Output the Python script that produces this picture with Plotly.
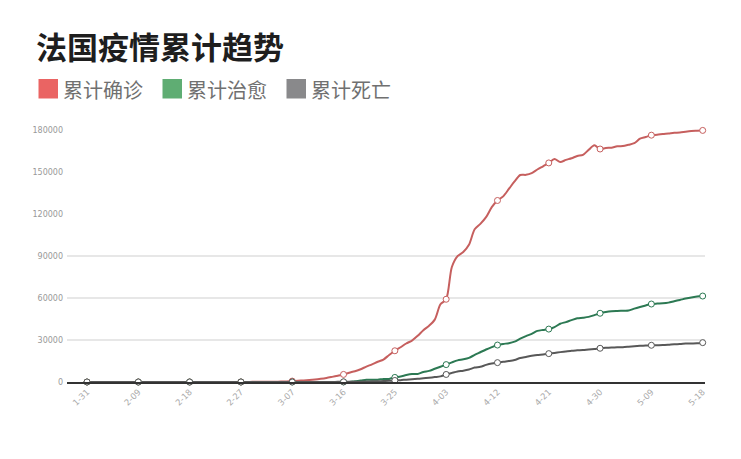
import plotly.graph_objects as go
import pandas as pd

# ---- data ----
dates = [d.strftime("%-m-%d") for d in pd.date_range("2020-01-31", "2020-05-18", freq="D")]

confirmed = (
    [6]
    + [6] * 8 + [11] * 7 + [12] * 10 + [18, 38, 57, 100]
    + [100, 130, 191, 212, 285, 423, 653, 949, 1126, 1412, 1784, 2281, 2876, 3661, 4499,
       5423, 6633, 7730, 9134, 10995, 12612, 14459, 16018, 19300, 22302, 24800, 27500,
       29600, 32964, 37000, 40174]
    + [44550, 55500, 59105, 82165, 89953, 92839, 98010, 109069, 112950, 117749, 124869,
       129654, 132591, 137875, 143303, 147863, 147969, 149149, 151793, 154097, 156480,
       159297, 157125, 158636, 159828, 161488, 162220, 165842, 169053, 166420]
    + [167178, 167346, 168396, 168518, 169462, 170551, 173800, 175000, 176300, 176600,
       177100, 177500, 178000, 178200, 178800, 179300, 179500, 179700]
)

recovered = (
    [0]
    + [0] * 14 + [4] * 15
    + [12] * 17 + [602, 1000, 1587, 1587, 1587, 2200, 2200, 3281, 3900, 4948, 5700, 5700,
                   7202, 7927]
    + [9444, 10935, 12428, 14008, 15438, 16183, 17250, 19337, 21254, 23206, 24932, 26391,
       27186, 27718, 28805, 30955, 32812, 34420, 36500, 37200, 37800, 39200, 41600, 42800,
       44200, 45500, 45900, 46500, 47800, 49100]
    + [50000, 50600, 50800, 50900, 51000, 52400, 53600, 54700, 55700, 56000, 56200, 56700,
       57700, 58600, 59600, 60400, 61000, 61400]
)

deaths = (
    [0]
    + [0] * 15 + [1] * 11 + [2] * 3
    + [2, 2, 3, 4, 4, 6, 9, 16, 19, 25, 33, 48, 61, 79, 91, 127, 148, 175, 244, 372, 450,
       562, 674, 860, 1100, 1331, 1696, 1995, 2314, 2606, 3024]
    + [3523, 4032, 5387, 6507, 7560, 8078, 8911, 10328, 10869, 12210, 13197, 13832, 14393,
       14967, 15729, 17167, 17920, 18681, 19323, 19718, 20265, 20796, 21340, 21856, 22245,
       22614, 22856, 23293, 23660, 24087]
    + [24376, 24594, 24760, 24895, 25201, 25531, 25809, 25987, 26230, 26310, 26380, 26643,
       26991, 27074, 27425, 27529, 27625, 28108]
)

series_names = ["累计确诊", "累计治愈", "累计死亡"]
y_ticks = [0, 30000, 60000, 90000, 120000, 150000, 180000]
grid_values = [30000, 60000, 90000]
tick_step = 9
title_text = "法国疫情累计趋势"

# ---- styles ----
line_colors = ["#c65f5e", "#2c7953", "#585858"]
legend_colors = ["#ea6463", "#5fad73", "#89898b"]

W, H = 741, 459
L, R, T, B = 67, 36, 124, 77
pw, ph = W - L - R, H - T - B
px_per_day = (702.7 - 87) / 108.0
x_range = [-(87 - L) / px_per_day, (W - R - 87) / px_per_day]
y_max = (382 - T) / 252.0 * 180000

fig = go.Figure()
tick_idx = list(range(0, len(dates), tick_step))
for name, vals, col in zip(series_names, [confirmed, recovered, deaths], line_colors):
    fig.add_trace(go.Scatter(
        x=dates, y=vals, name=name, mode="lines",
        line=dict(color=col, width=2, shape="spline", smoothing=0.8),
        showlegend=False, hoverinfo="skip"))
for name, vals, col in zip(series_names, [confirmed, recovered, deaths], line_colors):
    fig.add_trace(go.Scatter(
        x=[dates[i] for i in tick_idx], y=[vals[i] for i in tick_idx], mode="markers",
        marker=dict(size=6, color="white", line=dict(color=col, width=1)),
        showlegend=False, hoverinfo="skip", cliponaxis=False))

shapes = []
for g in grid_values:
    shapes.append(dict(type="line", xref="paper", yref="y", x0=0, x1=1, y0=g, y1=g,
                       line=dict(color="#cfcfcf", width=1), layer="below"))

def px_x(p):
    return (p - L) / pw

def px_y(p):
    return (H - B - p) / ph

annotations = []
legend_sq_x = [38.5, 162.5, 286.5]
legend_txt_x = [61, 185, 309]
for i, name in enumerate(series_names):
    shapes.append(dict(type="rect", xref="paper", yref="paper",
                       x0=px_x(legend_sq_x[i]), x1=px_x(legend_sq_x[i] + 19.5),
                       y0=px_y(98.5), y1=px_y(79),
                       fillcolor=legend_colors[i], line=dict(width=0)))
    annotations.append(dict(text=name, xref="paper", yref="paper",
                            x=px_x(legend_txt_x[i]), y=px_y(89), xanchor="left",
                            yanchor="middle", showarrow=False,
                            font=dict(family="Noto Sans CJK SC", size=20, color="#707070")))

fig.update_layout(
    width=W, height=H,
    margin=dict(l=L, r=R, t=T, b=B, pad=0),
    paper_bgcolor="white", plot_bgcolor="white",
    title=dict(text="<b>" + title_text + "</b>", x=36 / W, xanchor="left", xref="container",
               y=1 - 48 / H, yanchor="middle",
               font=dict(family="Noto Sans CJK SC", size=31, color="#1e1e1e")),
    shapes=shapes, annotations=annotations,
    xaxis=dict(type="category", range=x_range, tickmode="array",
               tickvals=[dates[i] for i in tick_idx], ticktext=[dates[i] for i in tick_idx],
               tickangle=-45, showgrid=False, zeroline=False, showline=True,
               linecolor="#333333", linewidth=1.5, ticks="",
               tickfont=dict(family="DejaVu Sans", size=8.5, color="#aaaaaa")),
    yaxis=dict(range=[0, y_max], tickmode="array", tickvals=y_ticks, tickformat="d",
               showgrid=False, zeroline=False, showline=False, ticks="",
               ticklabelstandoff=3,
               tickfont=dict(family="DejaVu Sans", size=8, color="#999999")),
)

fig.write_html("out.html", config={"displayModeBar": False},
               post_script="document.body.style.margin='0px';document.body.style.overflow='hidden';")
